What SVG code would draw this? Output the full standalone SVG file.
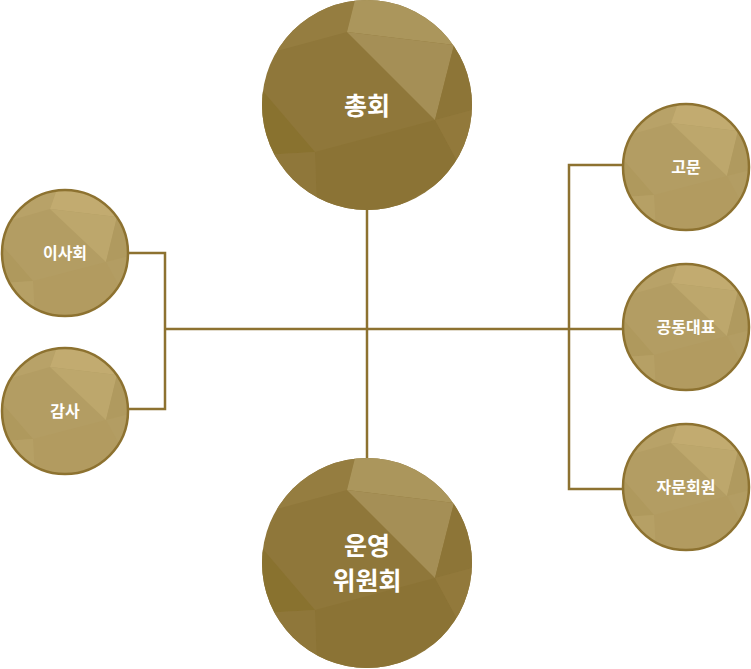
<svg xmlns="http://www.w3.org/2000/svg" width="751" height="669" viewBox="0 0 751 669">
<style>
.conn{fill:none;stroke:#8d7230;stroke-width:2.5}
.lbl{font-family:"Noto Sans CJK KR","Noto Sans",sans-serif;fill:#ffffff;text-anchor:middle;font-weight:700}
.big{font-size:25px}
.small{font-size:16px}
</style>
<defs>
<clipPath id="cb"><circle cx="0" cy="0" r="105"/></clipPath>
<clipPath id="cs"><circle cx="0" cy="0" r="63"/></clipPath>
<g id="bigFacets" clip-path="url(#cb)">
<rect x="-105" y="-105" width="210" height="210" fill="#8f773a"/>
<polygon points="-105,-105 -12,-105 -20,-73 -105,-50" fill="#957d40"/>
<polygon points="-12,-105 105,-105 87,-60 -20,-73" fill="#ab965c"/>
<polygon points="-20,-73 87,-60 68,15" fill="#a58f56"/>
<polygon points="87,-60 105,-40 105,5 68,15" fill="#8d7537"/>
<polygon points="-105,-15 -52,47 -105,50" fill="#89722f"/>
<polygon points="-52,47 68,15 95,65 25,105 -50,105" fill="#8b7335"/>
<polygon points="-105,50 -52,47 -50,105 -105,105" fill="#8f773a"/>
<polygon points="68,15 105,5 105,70 95,65" fill="#92793b"/>
</g>
<g id="smallFacets" clip-path="url(#cs)">
<rect x="-64" y="-64" width="128" height="128" fill="#b39d63"/>
<polygon points="-64,-64 -8,-64 -15,-44 -64,-30" fill="#b8a268"/>
<polygon points="-8,-64 64,-64 52,-36 -15,-44" fill="#c2ab70"/>
<polygon points="-15,-44 52,-36 41,9" fill="#bda76c"/>
<polygon points="52,-36 64,-24 64,3 41,9" fill="#b09a5f"/>
<polygon points="-64,-9 -32,28 -64,30" fill="#af995d"/>
<polygon points="-32,28 41,9 58,40 15,64 -30,64" fill="#b29b60"/>
<polygon points="-64,30 -32,28 -30,64 -64,64" fill="#b6a065"/>
</g>
</defs>
<g id="connectors">
<line class="conn" x1="367" y1="210" x2="367" y2="458"/>
<line class="conn" x1="165" y1="329" x2="622" y2="329"/>
<polyline class="conn" points="129,253 165,253 165,409 129,409"/>
<polyline class="conn" points="622,165 569,165 569,489 622,489"/>
</g>
<g id="node-chonghoe">
<use href="#bigFacets" transform="translate(367,105)"/>
<text class="lbl big" x="367" y="115">총회</text>
</g>
<g id="node-unyoung">
<use href="#bigFacets" transform="translate(367,563)"/>
<text class="lbl big" x="367" y="555">운영</text>
<text class="lbl big" x="367" y="590">위원회</text>
</g>
<g id="node-isahoe">
<use href="#smallFacets" transform="translate(65,253)"/>
<circle cx="65" cy="253" r="63" fill="none" stroke="#8d7230" stroke-width="2.5"/>
<text class="lbl small" x="65" y="259">이사회</text>
</g>
<g id="node-gamsa">
<use href="#smallFacets" transform="translate(65,411)"/>
<circle cx="65" cy="411" r="63" fill="none" stroke="#8d7230" stroke-width="2.5"/>
<text class="lbl small" x="65" y="417">감사</text>
</g>
<g id="node-gomun">
<use href="#smallFacets" transform="translate(686,167)"/>
<circle cx="686" cy="167" r="63" fill="none" stroke="#8d7230" stroke-width="2.5"/>
<text class="lbl small" x="686" y="173">고문</text>
</g>
<g id="node-daepyo">
<use href="#smallFacets" transform="translate(686,327)"/>
<circle cx="686" cy="327" r="63" fill="none" stroke="#8d7230" stroke-width="2.5"/>
<text class="lbl small" x="686" y="333">공동대표</text>
</g>
<g id="node-jamun">
<use href="#smallFacets" transform="translate(686,487)"/>
<circle cx="686" cy="487" r="63" fill="none" stroke="#8d7230" stroke-width="2.5"/>
<text class="lbl small" x="686" y="493">자문회원</text>
</g>
</svg>
